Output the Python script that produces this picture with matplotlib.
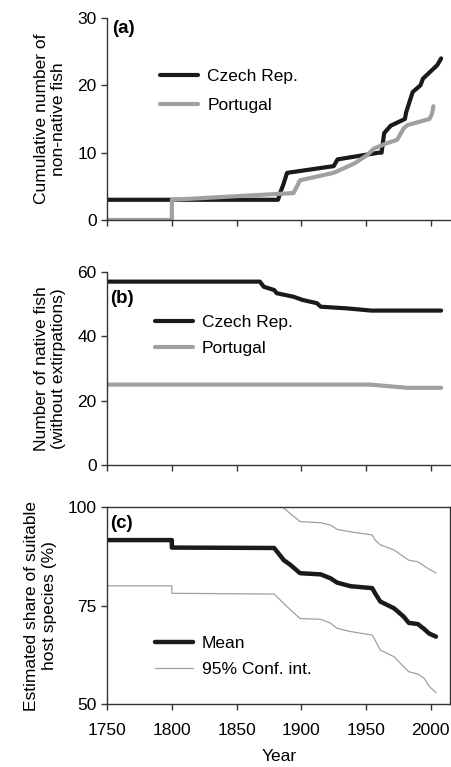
import matplotlib
matplotlib.use('Agg')
import matplotlib.pyplot as plt

plt.rcParams['font.family'] = ['Liberation Sans', 'DejaVu Sans']
plt.rcParams['font.size'] = 12.5

# (a) cumulative number of non-native fish
cz_a_year = [1750, 1882, 1884, 1886, 1889, 1925, 1928, 1960, 1962, 1964, 1969, 1980, 1981, 1986, 1992, 1994, 2005, 2008]
cz_a_val = [3, 3, 4.2, 5.2, 7, 8, 9, 10, 10, 12.9, 14, 15, 16, 19, 20, 21, 23, 24]
pt_a_year = [1750, 1800, 1800, 1894, 1899, 1925, 1941, 1951, 1956, 1966, 1974, 1979, 1982, 1999, 2001, 2002]
pt_a_val = [0, 0, 3, 4, 5.9, 7, 8.4, 9.65, 10.6, 11.4, 11.9, 13.6, 14.1, 15, 15.8, 16.9]

# (b) number of native fish
cz_b_year = [1750, 1868, 1871, 1879, 1881, 1894, 1901, 1912, 1915, 1935, 1954, 2008]
cz_b_val = [57, 57, 55.4, 54.4, 53.4, 52.3, 51.3, 50.3, 49.2, 48.7, 48, 48]
pt_b_year = [1750, 1953, 1982, 2008]
pt_b_val = [25, 25, 24, 24]

# (c) estimated share of suitable host species
c_year = [1750, 1800, 1800, 1879, 1886.5, 1891.6, 1899, 1915, 1922.6, 1927.7, 1938, 1954.8,
          1957, 1961, 1971.6, 1979, 1983, 1990, 1995, 1998.7, 2004]
mean_c = [91.6, 91.6, 89.7, 89.6, 86.5, 85.3, 83.2, 82.9, 81.9, 80.8, 79.9, 79.4,
          78.1, 76.0, 74.3, 72.2, 70.6, 70.3, 69.0, 67.9, 67.1]
upper_c = [104.5, 104.5, 102.7, 102.5, 99.7, 98.3, 96.3, 96.0, 95.4, 94.3, 93.7, 92.9,
           91.6, 90.4, 89.1, 87.4, 86.5, 86.1, 85.0, 84.2, 83.3]
lower_c = [80, 80, 78.1, 77.9, 75.5, 73.9, 71.7, 71.5, 70.5, 69.2, 68.4, 67.5,
           66.2, 63.7, 62.0, 59.5, 58.2, 57.6, 56.5, 54.5, 52.9]

black = '#1a1a1a'
grey = '#a0a0a0'
spine_col = '#333333'

fig = plt.figure(figsize=(4.52, 7.67), dpi=100)
ax1 = fig.add_axes([0.237, 0.7132, 0.759, 0.2633])
ax2 = fig.add_axes([0.237, 0.3937, 0.759, 0.2517])
ax3 = fig.add_axes([0.237, 0.0821, 0.759, 0.2569])

for ax in (ax1, ax2, ax3):
    ax.set_xlim(1750, 2015)
    ax.set_xticks([1750, 1800, 1850, 1900, 1950, 2000])
    ax.tick_params(direction='out', length=4.5, width=1, color=spine_col, pad=3)
    for s in ax.spines.values():
        s.set_color(spine_col)
        s.set_linewidth(1)

for ax in (ax1, ax2):
    ax.spines['top'].set_visible(False)
    ax.spines['right'].set_visible(False)
    ax.set_xticklabels([])

leg_kw = dict(frameon=False, loc='upper left', borderpad=0, handlelength=2.2,
              handletextpad=0.5, borderaxespad=0)

# panel a
ax1.plot(cz_a_year, cz_a_val, color=black, lw=3, solid_capstyle='round', solid_joinstyle='round', label='Czech Rep.')
ax1.plot(pt_a_year, pt_a_val, color=grey, lw=3, solid_capstyle='round', solid_joinstyle='round', label='Portugal')
ax1.set_ylim(0, 30)
ax1.set_yticks([0, 10, 20, 30])
ax1.set_ylabel('Cumulative number of\nnon-native fish', labelpad=8)
ax1.text(0.015, 0.99, '(a)', transform=ax1.transAxes, ha='left', va='top', fontweight='bold', fontsize=13.5)
ax1.legend(bbox_to_anchor=(0.155, 0.747), labelspacing=0.78, **leg_kw)

# panel b
ax2.plot(cz_b_year, cz_b_val, color=black, lw=3, solid_capstyle='round', solid_joinstyle='round', label='Czech Rep.')
ax2.plot(pt_b_year, pt_b_val, color=grey, lw=3, solid_capstyle='round', solid_joinstyle='round', label='Portugal')
ax2.set_ylim(0, 60)
ax2.set_yticks([0, 20, 40, 60])
ax2.set_ylabel('Number of native fish\n(without extirpations)', labelpad=8)
ax2.text(0.009, 0.907, '(b)', transform=ax2.transAxes, ha='left', va='top', fontweight='bold', fontsize=13.5)
ax2.legend(bbox_to_anchor=(0.14, 0.778), labelspacing=0.64, **leg_kw)

# panel c
ax3.plot(c_year, mean_c, color=black, lw=3.2, solid_capstyle='round', solid_joinstyle='round', label='Mean')
ax3.plot(c_year, upper_c, color=grey, lw=0.9, label='95% Conf. int.')
ax3.plot(c_year, lower_c, color=grey, lw=0.9)
ax3.set_ylim(50, 100)
ax3.set_yticks([50, 75, 100])
ax3.set_ylabel('Estimated share of suitable\nhost species (%)', labelpad=8)
ax3.set_xlabel('Year', labelpad=8)
ax3.tick_params(axis='x', pad=9)
ax3.text(0.009, 0.959, '(c)', transform=ax3.transAxes, ha='left', va='top', fontweight='bold', fontsize=13.5)
ax3.legend(bbox_to_anchor=(0.14, 0.346), labelspacing=0.63, **leg_kw)

fig.savefig('out.png', dpi=100)
